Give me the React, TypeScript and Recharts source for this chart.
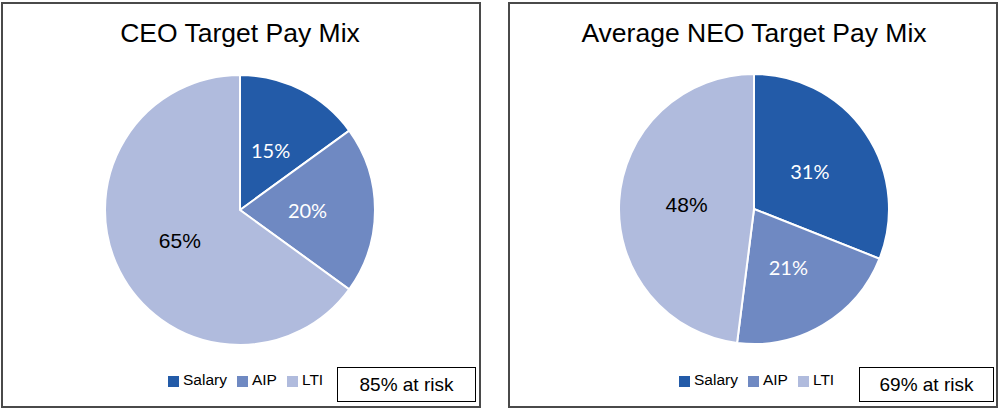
import React from 'react';
import { PieChart, Pie, Cell, Legend } from 'recharts';

const categories = ['Salary', 'AIP', 'LTI'];
const ceoValues = [15, 20, 65];
const neoValues = [31, 21, 48];
const colors = ['#235BA8', '#6F89C2', '#B0BBDD'];
const labelColors = ['#ffffff', '#ffffff', '#000000'];

const ceoData = categories.map((name, i) => ({ name, value: ceoValues[i] }));
const neoData = categories.map((name, i) => ({ name, value: neoValues[i] }));

const RAD = Math.PI / 180;
const ARIAL = '"Liberation Sans", Arial, sans-serif';

const renderLabel = (props: any) => {
  const { cx, cy, midAngle, outerRadius, index, value } = props;
  const r = outerRadius * 0.5;
  const x = cx + r * Math.cos(-midAngle * RAD);
  const y = cy + r * Math.sin(-midAngle * RAD);
  const dark = index === 2;
  return (
    <text
      x={x}
      y={y}
      fill={labelColors[index]}
      textAnchor="middle"
      dominantBaseline="central"
      fontSize={dark ? 21 : 20}
      fontFamily={dark ? ARIAL : 'Lato, sans-serif'}
    >
      {value}%
    </text>
  );
};

interface PanelProps {
  left: number;
  width: number;
  title: string;
  data: { name: string; value: number }[];
  cx: number;
  cy: number;
  legendLeft: number;
  risk: string;
  boxLeft: number;
  boxWidth: number;
  borderLeft: number;
  borderWidth: number;
}

const Panel: React.FC<PanelProps> = (p) => {
  return (
    <div style={{ position: 'absolute', left: p.left, top: 0, width: p.width, height: 412 }}>
      <div
        style={{
          position: 'absolute',
          left: p.borderLeft,
          top: 2,
          width: p.borderWidth,
          height: 406,
          border: '2px solid #4a4a4a',
          boxSizing: 'border-box',
        }}
      />
      <div
        style={{
          position: 'absolute',
          left: p.cx - 250,
          width: 500,
          top: 18,
          textAlign: 'center',
          fontSize: 26.5,
          fontFamily: ARIAL,
          color: '#000',
        }}
      >
        {p.title}
      </div>
      <div style={{ position: 'absolute', left: 0, top: 0 }}>
        <PieChart width={p.width} height={412} margin={{ top: 0, right: 0, bottom: 0, left: 0 }}>
          <Pie
            data={p.data}
            dataKey="value"
            nameKey="name"
            cx={p.cx}
            cy={p.cy}
            outerRadius={135}
            startAngle={90}
            endAngle={-270}
            stroke="#ffffff"
            strokeWidth={2}
            label={renderLabel}
            labelLine={false}
            isAnimationActive={false}
          >
            {p.data.map((d, i) => (
              <Cell key={d.name} fill={colors[i]} />
            ))}
          </Pie>
          <Legend
            iconType="square"
            iconSize={11}
            itemSorter={(item: any) => categories.indexOf(item.value)}
            formatter={(value: string) => (
              <span style={{ color: '#000', fontSize: 15.5, fontFamily: ARIAL }}>{value}</span>
            )}
            wrapperStyle={{ position: 'absolute', left: p.legendLeft, top: 371, width: 'auto', bottom: 'auto' }}
          />
        </PieChart>
      </div>
      <div
        style={{
          position: 'absolute',
          left: p.boxLeft,
          top: 367,
          width: p.boxWidth,
          height: 35,
          border: '1.5px solid #000',
          boxSizing: 'border-box',
          display: 'flex',
          alignItems: 'center',
          justifyContent: 'center',
          fontSize: 19,
          fontFamily: ARIAL,
          color: '#000',
          background: '#fff',
        }}
      >
        {p.risk}
      </div>
    </div>
  );
};

const App: React.FC = () => {
  return (
    <div style={{ position: 'absolute', left: 0, top: 0, width: 1000, height: 412, background: '#fff' }}>
      <Panel
        left={0}
        width={490}
        title="CEO Target Pay Mix"
        data={ceoData}
        cx={240}
        cy={210}
        legendLeft={168}
        risk="85% at risk"
        boxLeft={337}
        boxWidth={139}
        borderLeft={1}
        borderWidth={480}
      />
      <Panel
        left={500}
        width={500}
        title="Average NEO Target Pay Mix"
        data={neoData}
        cx={254}
        cy={209}
        legendLeft={179}
        risk="69% at risk"
        boxLeft={359}
        boxWidth={135}
        borderLeft={8}
        borderWidth={490}
      />
    </div>
  );
};

export default App;
